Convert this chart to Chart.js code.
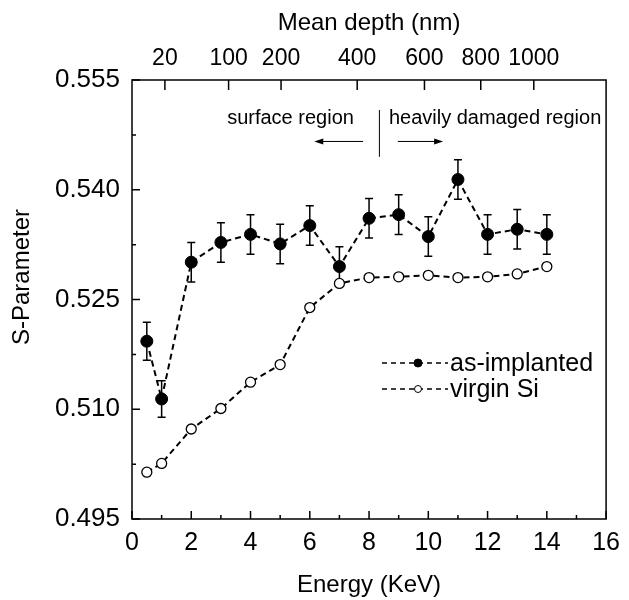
<!DOCTYPE html>
<html>
<head>
<meta charset="utf-8">
<script src="https://cdn.jsdelivr.net/npm/chart.js@4"></script>
<style>
  html, body { margin: 0; padding: 0; background: #fff; }
  #wrap { width: 629px; height: 600px; }
</style>
</head>
<body>
<div id="wrap"><canvas id="sChart" width="629" height="600"></canvas></div>
<script>
// energy (keV) of each measurement
const energy = [0.5, 1, 2, 3, 4, 5, 6, 7, 8, 9, 10, 11, 12, 13, 14];
const asImplanted = [0.5193, 0.5114, 0.5301, 0.5328, 0.5339, 0.5326, 0.5351, 0.5295, 0.5361, 0.5366, 0.5336, 0.5414, 0.5339, 0.5346, 0.5339];
const asImplantedErr = [0.0026, 0.0025, 0.0027, 0.0027, 0.0027, 0.0027, 0.0027, 0.0027, 0.0027, 0.0027, 0.0027, 0.0027, 0.0027, 0.0027, 0.0027];
const virginSi = [0.5014, 0.5026, 0.5073, 0.5101, 0.5137, 0.5161, 0.5239, 0.5272, 0.5280, 0.5281, 0.5283, 0.5280, 0.5281, 0.5285, 0.5295];

// tick labels
const yTicks = [0.495, 0.510, 0.525, 0.540, 0.555];
const depthLabels = ["20", "100", "200", "400", "600", "800", "1000"];
const depthAtEnergy = [1.11, 3.26, 5.03, 7.60, 9.87, 11.77, 13.56];

const FONT = "'Liberation Sans', Arial, Helvetica, sans-serif";

const toPoints = (xs, ys) => xs.map((x, i) => ({ x: x, y: ys[i] }));

// error bars, drawn under the markers
const errorBars = {
    id: "errorBars",
    beforeDatasetsDraw(chart) {
        const ctx = chart.ctx;
        const xs = chart.scales.x, ys = chart.scales.y;
        ctx.save();
        ctx.strokeStyle = "#000";
        ctx.lineWidth = 1.5;
        energy.forEach((e, i) => {
            const px = xs.getPixelForValue(e);
            const top = ys.getPixelForValue(asImplanted[i] + asImplantedErr[i]);
            const bot = ys.getPixelForValue(asImplanted[i] - asImplantedErr[i]);
            ctx.beginPath();
            ctx.moveTo(px, top); ctx.lineTo(px, bot);
            ctx.moveTo(px - 4, top); ctx.lineTo(px + 4, top);
            ctx.moveTo(px - 4, bot); ctx.lineTo(px + 4, bot);
            ctx.stroke();
        });
        ctx.restore();
    }
};

// frame, inward ticks, y title, notes and legend
const decorations = {
    id: "decorations",
    afterDraw(chart) {
        const ctx = chart.ctx;
        const a = chart.chartArea;
        const xs = chart.scales.x, ys = chart.scales.y, x2 = chart.scales.x2;
        ctx.save();
        ctx.strokeStyle = "#000";
        ctx.fillStyle = "#000";
        ctx.lineWidth = 1.5;
        ctx.strokeRect(a.left, a.top, a.right - a.left, a.bottom - a.top);

        ctx.beginPath();
        for (let v = 0; v <= 16; v++) {
            const px = xs.getPixelForValue(v);
            const len = v % 2 === 0 ? 8 : 4;
            ctx.moveTo(px, a.bottom); ctx.lineTo(px, a.bottom - len);
        }
        for (let k = 0; k < yTicks.length * 2 - 1; k++) {
            const v = yTicks[0] + k * 0.0075;
            const py = ys.getPixelForValue(v);
            const len = k % 2 === 0 ? 8 : 4;
            ctx.moveTo(a.left, py); ctx.lineTo(a.left + len, py);
        }
        depthAtEnergy.forEach(e => {
            const px = x2.getPixelForValue(e);
            ctx.moveTo(px, a.top); ctx.lineTo(px, a.top + 10);
        });
        ctx.stroke();

        // y axis title
        ctx.save();
        ctx.translate(22, a.top + 197);
        ctx.rotate(-Math.PI / 2);
        ctx.font = "24px " + FONT;
        ctx.textAlign = "center";
        ctx.textBaseline = "middle";
        ctx.fillText("S-Parameter", 0, 0);
        ctx.restore();

        // region divider and arrows
        ctx.lineWidth = 1;
        ctx.beginPath();
        ctx.moveTo(xs.getPixelForValue(8.35), ys.getPixelForValue(0.5509));
        ctx.lineTo(xs.getPixelForValue(8.35), ys.getPixelForValue(0.5445));
        ctx.stroke();
        const arrow = (x0, x1, y) => {
            const p0 = xs.getPixelForValue(x0), p1 = xs.getPixelForValue(x1), py = ys.getPixelForValue(y);
            const dir = Math.sign(p1 - p0);
            ctx.beginPath();
            ctx.moveTo(p0, py); ctx.lineTo(p1 - dir * 6, py);
            ctx.stroke();
            ctx.beginPath();
            ctx.moveTo(p1, py);
            ctx.lineTo(p1 - dir * 9, py - 3);
            ctx.lineTo(p1 - dir * 9, py + 3);
            ctx.closePath();
            ctx.fill();
        };
        arrow(7.8, 6.15, 0.5466);
        arrow(8.97, 10.5, 0.5466);

        ctx.font = "20px " + FONT;
        ctx.textBaseline = "alphabetic";
        ctx.textAlign = "center";
        ctx.fillText("surface region", xs.getPixelForValue(5.35), ys.getPixelForValue(0.5490));
        ctx.textAlign = "left";
        ctx.fillText("heavily damaged region", xs.getPixelForValue(8.67), ys.getPixelForValue(0.5490));

        // legend
        const lx = a.left + 250, ly = a.top + 283;
        chart.data.datasets.forEach((ds, i) => {
            const y = ly + i * 26;
            ctx.strokeStyle = "#000";
            ctx.lineWidth = 1.5;
            ctx.setLineDash([5, 4]);
            ctx.beginPath();
            ctx.moveTo(lx, y); ctx.lineTo(lx + 66, y);
            ctx.stroke();
            ctx.setLineDash([]);
            ctx.beginPath();
            ctx.arc(lx + 36, y, i === 0 ? 4 : 3.5, 0, Math.PI * 2);
            ctx.fillStyle = ds.pointBackgroundColor;
            ctx.fill();
            ctx.lineWidth = 1;
            ctx.stroke();
            ctx.fillStyle = "#000";
            ctx.font = "25px " + FONT;
            ctx.textBaseline = "middle";
            ctx.textAlign = "left";
            ctx.fillText(ds.label, lx + 68, y + 1);
        });
        ctx.restore();
    }
};

new Chart(document.getElementById("sChart"), {
    type: "line",
    data: {
        datasets: [{
            label: "as-implanted",
            data: toPoints(energy, asImplanted),
            borderColor: "#000",
            borderWidth: 2,
            borderDash: [6, 4],
            pointRadius: 6,
            pointBackgroundColor: "#000",
            pointBorderColor: "#000",
            pointBorderWidth: 1,
            fill: false,
            tension: 0
        }, {
            label: "virgin Si",
            data: toPoints(energy, virginSi),
            borderColor: "#000",
            borderWidth: 2,
            borderDash: [6, 4],
            pointRadius: 5,
            pointBackgroundColor: "#fff",
            pointBorderColor: "#000",
            pointBorderWidth: 1.3,
            fill: false,
            tension: 0
        }]
    },
    options: {
        responsive: false,
        animation: false,
        devicePixelRatio: 1,
        layout: { padding: { left: 0, right: 15, top: 0, bottom: 0 } },
        plugins: {
            legend: { display: false },
            tooltip: { enabled: false }
        },
        scales: {
            x: {
                type: "linear",
                position: "bottom",
                min: 0,
                max: 16,
                afterFit: s => { s.height = 81; },
                grid: { display: false, drawTicks: false },
                border: { display: false },
                ticks: {
                    stepSize: 2,
                    maxRotation: 0,
                    padding: 9,
                    color: "#000",
                    font: { family: FONT, size: 25 }
                },
                title: {
                    display: true,
                    text: "Energy (KeV)",
                    color: "#000",
                    font: { family: FONT, size: 24 },
                    padding: { top: 0, bottom: 0 }
                }
            },
            x2: {
                type: "linear",
                position: "top",
                min: 0,
                max: 16,
                afterFit: s => { s.height = 80; },
                afterBuildTicks: s => { s.ticks = depthAtEnergy.map(v => ({ value: v })); },
                grid: { display: false, drawTicks: false },
                border: { display: false },
                ticks: {
                    autoSkip: false,
                    maxRotation: 0,
                    padding: 8,
                    color: "#000",
                    font: { family: FONT, size: 23 },
                    callback: (v, i) => depthLabels[i]
                },
                title: {
                    display: true,
                    text: "Mean depth (nm)",
                    color: "#000",
                    font: { family: FONT, size: 24 },
                    padding: { top: 9, bottom: 0 }
                }
            },
            y: {
                min: 0.495,
                max: 0.555,
                afterFit: s => { s.width = 132; },
                afterBuildTicks: s => { s.ticks = yTicks.map(v => ({ value: v })); },
                grid: { display: false, drawTicks: false },
                border: { display: false },
                ticks: {
                    padding: 12,
                    color: "#000",
                    font: { family: FONT, size: 26 },
                    callback: v => v.toFixed(3)
                },
                title: { display: false }
            }
        }
    },
    plugins: [errorBars, decorations]
});
</script>
</body>
</html>
